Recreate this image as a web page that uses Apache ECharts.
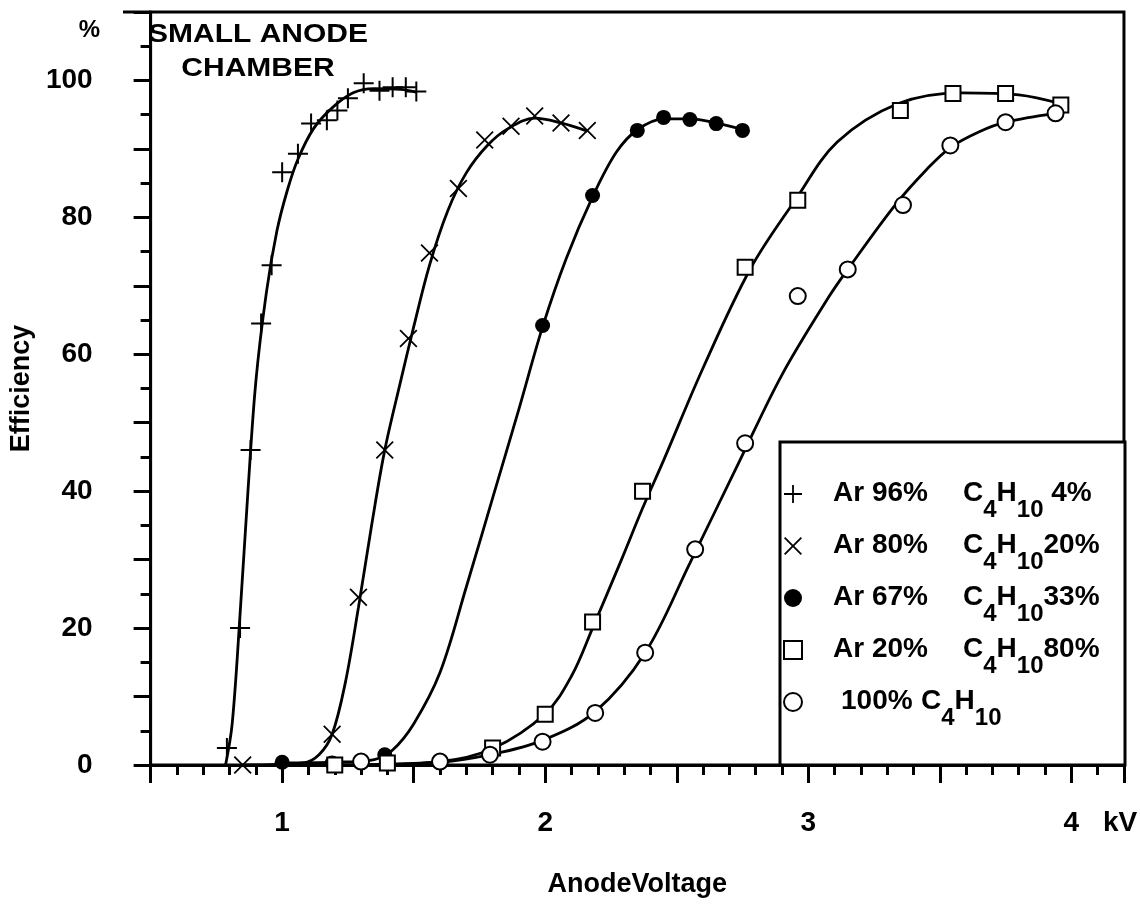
<!DOCTYPE html>
<html>
<head>
<meta charset="utf-8">
<script src="https://cdn.jsdelivr.net/npm/echarts@6/dist/echarts.min.js"></script>
<style>
  html, body { margin: 0; padding: 0; background: #fff; }
  #chart { width: 1140px; height: 907px; }
</style>
</head>
<body>
<div id="chart"></div>
<script>
// 坐标轴刻度
var xTickLabels = [1, 2, 3, 4];

// 图例名称
var seriesNames = ['Ar 96%  C4H10 4%', 'Ar 80%  C4H10 20%', 'Ar 67%  C4H10 33%', 'Ar 20%  C4H10 80%', '100% C4H10'];

// 测量点 [kV, %]
var plusPoints = [[0.79, 2.5], [0.84, 20], [0.88, 46], [0.92, 64.5], [0.96, 73], [1.0, 86.6], [1.06, 89.3], [1.11, 93.7],
    [1.17, 94.2], [1.21, 95.6], [1.25, 97.4], [1.31, 99.6], [1.37, 98.5], [1.42, 99], [1.47, 99], [1.51, 98.4]];
var crossPoints = [[0.85, 0], [1.19, 4.5], [1.29, 24.5], [1.39, 46], [1.48, 62.3], [1.56, 74.8], [1.67, 84.2],
    [1.77, 91.3], [1.87, 93.3], [1.96, 94.8], [2.06, 93.8], [2.16, 92.7]];
var dotPoints = [[1.0, 0.4], [1.19, 0.3], [1.39, 1.5], [1.99, 64.2], [2.18, 83.2], [2.35, 92.7], [2.45, 94.6],
    [2.55, 94.3], [2.65, 93.7], [2.75, 92.7]];
var squarePoints = [[1.2, 0], [1.4, 0.3], [1.8, 2.5], [2.0, 7.4], [2.18, 20.9], [2.37, 40], [2.76, 72.7], [2.96, 82.5],
    [3.35, 95.6], [3.55, 98.1], [3.75, 98.1], [3.96, 96.4]];
var circlePoints = [[1.3, 0.5], [1.6, 0.5], [1.79, 1.5], [1.99, 3.4], [2.19, 7.6], [2.38, 16.4], [2.57, 31.5], [2.76, 47],
    [2.96, 68.5], [3.15, 72.4], [3.36, 81.8], [3.54, 90.5], [3.75, 93.9], [3.94, 95.2]];

// 拟合曲线
var plusCurve = [[0.785, 0], [0.81, 6], [0.84, 22], [0.87, 40], [0.9, 56], [0.94, 69], [0.98, 78], [1.02, 84],
    [1.06, 88.5], [1.12, 93], [1.19, 96], [1.27, 98.2], [1.35, 98.8], [1.45, 98.7], [1.51, 98.3]];
var crossCurve = [[0.85, 0], [1.08, 0.3], [1.14, 1.5], [1.19, 4.5], [1.24, 12], [1.29, 23], [1.34, 35], [1.39, 46],
    [1.45, 56], [1.5, 64], [1.56, 73], [1.63, 81], [1.7, 86.5], [1.78, 90.5], [1.86, 93], [1.96, 94.5], [2.06, 93.8], [2.16, 92.6]];
var dotCurve = [[1.0, 0.3], [1.2, 0.4], [1.35, 0.8], [1.42, 2.2], [1.5, 6], [1.6, 13.5], [1.7, 26], [1.8, 39], [1.9, 52],
    [1.99, 64], [2.08, 74], [2.18, 83], [2.27, 89.5], [2.35, 92.8], [2.45, 94.4], [2.55, 94.4], [2.65, 93.8], [2.75, 92.8]];
var squareCurve = [[1.2, 0], [1.6, 0.5], [1.8, 2.4], [2.0, 7.5], [2.1, 13], [2.18, 20], [2.29, 30], [2.37, 37.5],
    [2.45, 44.5], [2.6, 58], [2.78, 72.5], [2.95, 82.5], [3.11, 91], [3.34, 96.6], [3.58, 98.2], [3.8, 97.9], [3.96, 96.6]];
var circleCurve = [[1.3, 0], [1.6, 0.4], [1.79, 1.5], [1.99, 3.6], [2.19, 7.8], [2.38, 16.4], [2.55, 29.5], [2.74, 44.5],
    [2.9, 57], [3.08, 68.5], [3.15, 72.4], [3.33, 81.8], [3.45, 87], [3.54, 90.2], [3.65, 92.5], [3.75, 93.9], [3.94, 95.2]];

var FONT = '"Liberation Sans", Arial, Helvetica, sans-serif';

// 标记形状
var plusPath = 'path://M4.5,0H5.5V4.5H10V5.5H5.5V10H4.5V5.5H0V4.5H4.5Z';
var crossPath = 'path://M0,0.7L0.7,0L5,4.3L9.3,0L10,0.7L5.7,5L10,9.3L9.3,10L5,5.7L0.7,10L0,9.3L4.3,5Z';

var legendLabels = [
    '{g|}{a|Ar 96%}{n|C}{s|4}{n|H}{s|10}{n| 4%}',
    '{g|}{a|Ar 80%}{n|C}{s|4}{n|H}{s|10}{n|20%}',
    '{g|}{a|Ar 67%}{n|C}{s|4}{n|H}{s|10}{n|33%}',
    '{g|}{a|Ar 20%}{n|C}{s|4}{n|H}{s|10}{n|80%}',
    '{h|}{b|100% }{n|C}{s|4}{n|H}{s|10}'
];

function curveSeries(data) {
    return {
        type: 'line',
        data: data,
        smooth: 0.35,
        symbol: 'none',
        silent: true,
        z: 2,
        lineStyle: { color: '#000', width: 2.8 }
    };
}

function markSeries(name, data, symbol, size, fill, border) {
    return {
        name: name,
        type: 'scatter',
        data: data,
        symbol: symbol,
        symbolSize: size,
        z: 3,
        itemStyle: { color: fill, borderColor: '#000', borderWidth: border, opacity: 1 }
    };
}

var chart = echarts.init(document.getElementById('chart'));

var option = {
    backgroundColor: '#fff',
    animation: false,
    grid: {
        left: 148, right: 15, top: 12, bottom: 142,
        show: true, borderColor: '#000', borderWidth: 3, backgroundColor: 'transparent'
    },
    xAxis: [{
        type: 'value', min: 0.5, max: 4.2, position: 'bottom',
        axisLine: { lineStyle: { color: '#000', width: 3 } },
        axisTick: { customValues: xTickLabels, length: 18, lineStyle: { color: '#000', width: 3 } },
        axisLabel: {
            customValues: xTickLabels, margin: 44, color: '#000',
            fontFamily: FONT, fontWeight: 'bold', fontSize: 28,
            formatter: function (v) {
                return v === 4 ? '{p|}{t|4}{k|kV}' : '{t|' + v + '}';
            },
            rich: {
                t: { fontFamily: FONT, fontWeight: 'bold', fontSize: 28, color: '#000' },
                p: { width: 58 },
                k: { width: 58, align: 'right', fontFamily: FONT, fontWeight: 'bold', fontSize: 28, color: '#000' }
            }
        },
        splitLine: { show: false },
        name: 'AnodeVoltage', nameLocation: 'middle', nameGap: 106,
        nameTextStyle: { color: '#000', fontFamily: FONT, fontWeight: 'bold', fontSize: 27 }
    }, {
        type: 'value', min: 0.5, max: 4.2, interval: 0.5, position: 'bottom',
        axisLine: { show: false },
        axisTick: { length: 18, lineStyle: { color: '#000', width: 3 } },
        axisLabel: { show: false },
        splitLine: { show: false }
    }, {
        type: 'value', min: 0.5, max: 4.2, interval: 0.1, position: 'bottom',
        axisLine: { show: false },
        axisTick: { length: 10, lineStyle: { color: '#000', width: 3 } },
        axisLabel: { show: false },
        splitLine: { show: false }
    }],
    yAxis: [{
        type: 'value', min: 0, max: 110, interval: 10, position: 'left',
        axisLine: { show: true, lineStyle: { color: '#000', width: 3 } },
        axisTick: { show: true, length: 17, lineStyle: { color: '#000', width: 3 } },
        axisLabel: {
            margin: 58, color: '#000', fontFamily: FONT, fontWeight: 'bold', fontSize: 28,
            formatter: function (v) { return (v % 20 === 0 && v <= 100) ? String(v) : ''; }
        },
        splitLine: { show: false },
        name: 'Efficiency', nameLocation: 'middle', nameGap: 112, nameRotate: 90,
        nameTextStyle: { color: '#000', fontFamily: FONT, fontWeight: 'bold', fontSize: 27 }
    }, {
        type: 'value', min: 0, max: 110, interval: 5, position: 'left',
        axisLine: { show: false },
        axisTick: { show: true, length: 10, lineStyle: { color: '#000', width: 3 } },
        axisLabel: { show: false },
        splitLine: { show: false }
    }],
    legend: {
        orient: 'vertical', left: 783, top: 479, itemGap: 9, padding: 0,
        itemWidth: 18, itemHeight: 18, selectedMode: false, z: 10,
        data: [
            { name: seriesNames[0], icon: plusPath },
            { name: seriesNames[1], icon: crossPath },
            { name: seriesNames[2], icon: 'circle' },
            { name: seriesNames[3], icon: 'rect' },
            { name: seriesNames[4], icon: 'circle' }
        ],
        formatter: function (name) {
            return legendLabels[seriesNames.indexOf(name)];
        },
        textStyle: {
            color: '#000', fontFamily: FONT, fontWeight: 'bold', fontSize: 28, lineHeight: 30,
            rich: {
                g: { width: 26 },
                h: { width: 34 },
                a: { width: 130, fontFamily: FONT, fontWeight: 'bold', fontSize: 28, color: '#000', verticalAlign: 'top' },
                b: { width: 80, fontFamily: FONT, fontWeight: 'bold', fontSize: 28, color: '#000', verticalAlign: 'top' },
                n: { fontFamily: FONT, fontWeight: 'bold', fontSize: 28, color: '#000', verticalAlign: 'top' },
                s: { fontFamily: FONT, fontWeight: 'bold', fontSize: 24, color: '#000', verticalAlign: 'top', padding: [19, 0, 0, 0] }
            }
        }
    },
    graphic: [{
        type: 'rect', z: 5,
        shape: { x: 780, y: 442, width: 345, height: 323 },
        style: { fill: '#fff', stroke: '#000', lineWidth: 3 }
    }, {
        type: 'line', z: 5,
        shape: { x1: 123, y1: 12, x2: 150, y2: 12 },
        style: { stroke: '#000', lineWidth: 3 }
    }, {
        type: 'text', z: 5, x: 258, y: 17, scaleY: 0.87,
        style: {
            text: 'SMALL ANODE\nCHAMBER', align: 'center', verticalAlign: 'top', lineHeight: 40,
            font: 'bold 30px ' + FONT, fill: '#000'
        }
    }, {
        type: 'text', z: 5, x: 100, y: 18,
        style: { text: '%', align: 'right', verticalAlign: 'top', font: 'bold 24px ' + FONT, fill: '#000' }
    }],
    series: [
        curveSeries(plusCurve),
        curveSeries(crossCurve),
        curveSeries(dotCurve),
        curveSeries(squareCurve),
        curveSeries(circleCurve),
        markSeries(seriesNames[0], plusPoints, plusPath, 20, '#000', 0),
        markSeries(seriesNames[1], crossPoints, crossPath, 18, '#000', 0),
        markSeries(seriesNames[2], dotPoints, 'circle', 15, '#000', 0),
        markSeries(seriesNames[3], squarePoints, 'rect', 15, '#fff', 2),
        markSeries(seriesNames[4], circlePoints, 'circle', 16, '#fff', 2)
    ]
};

chart.setOption(option);
</script>
</body>
</html>
